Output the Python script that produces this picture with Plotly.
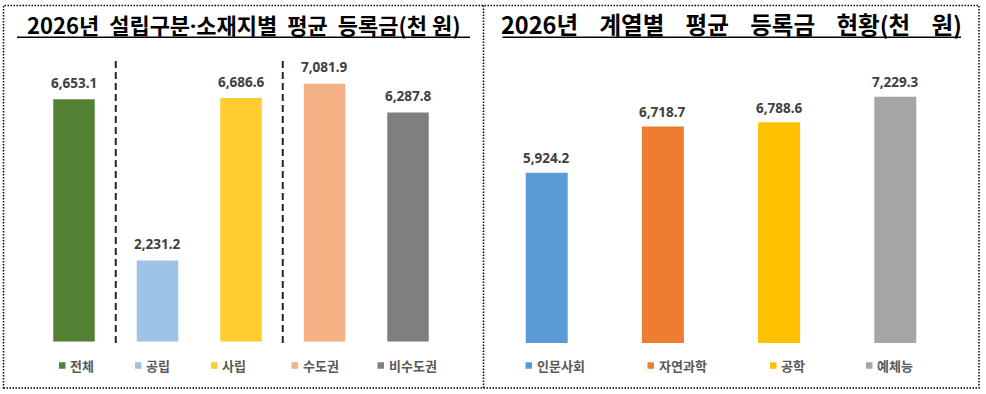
import plotly.graph_objects as go

W, H = 986, 394
NB = "\u00a0"
DOT = "<span style=\"font-family:'Noto Sans'\">·</span>"

# ---------------- data ----------------
left_title = f"2026년{NB*2}설립구분{DOT}소재지별{NB*2}평균{NB*2}등록금(천{NB}원)"
left_cats = ["전체", "공립", "사립", "수도권", "비수도권"]
left_vals = [6653.1, 2231.2, 6686.6, 7081.9, 6287.8]
left_colors = ["#548235", "#9DC3E6", "#FFCD2F", "#F4B183", "#7F7F7F"]

right_title = f"2026년{NB*4}계열별{NB*4}평균{NB*4}등록금{NB*4}현황(천{NB*4}원)"
right_cats = ["인문사회", "자연과학", "공학", "예체능"]
right_vals = [5924.2, 6718.7, 6788.6, 7229.3]
right_colors = ["#5B9BD5", "#ED7D31", "#FFC000", "#A5A5A5"]

# group separators (between categories)
separators = [0.5, 2.5]

# ---------------- helpers ----------------
def px(x):
    return x / W

def py(y):
    return 1 - y / H

fig = go.Figure()

fig.add_trace(go.Bar(
    x=left_cats, y=left_vals, marker=dict(color=left_colors, line=dict(width=0)),
    xaxis="x", yaxis="y", showlegend=False, hoverinfo="x+y",
))
fig.add_trace(go.Bar(
    x=right_cats, y=right_vals, marker=dict(color=right_colors, line=dict(width=0)),
    xaxis="x2", yaxis="y2", showlegend=False, hoverinfo="x+y",
))

label_font = dict(family="Noto Sans, DejaVu Sans, sans-serif", size=13.5, color="#404040", weight="bold")
annotations = []
for c, v in zip(left_cats, left_vals):
    annotations.append(dict(x=c, y=v, xref="x", yref="y", text=f"{v:,.1f}",
                            showarrow=False, yanchor="middle", yshift=16.5, font=label_font))
for c, v in zip(right_cats, right_vals):
    annotations.append(dict(x=c, y=v, xref="x2", yref="y2", text=f"{v:,.1f}",
                            showarrow=False, yanchor="middle", yshift=14.5, font=label_font))

title_font_l = dict(family="Noto Sans CJK KR, sans-serif", size=22, color="#000000", weight="bold")
title_font_r = dict(family="Noto Sans CJK KR, sans-serif", size=23.5, color="#000000", weight="bold")
annotations.append(dict(x=px(243.5), y=py(23.5), xref="paper", yref="paper", text=left_title,
                        showarrow=False, xanchor="center", yanchor="middle", font=title_font_l))
annotations.append(dict(x=px(731.5), y=py(23.5), xref="paper", yref="paper", text=right_title,
                        showarrow=False, xanchor="center", yanchor="middle", font=title_font_r))

shapes = []
# outer dotted frame and divider
frame = dict(color="#000000", width=1.5, dash="1.5px,1.5px")
shapes.append(dict(type="rect", xref="paper", yref="paper", x0=px(3.5), x1=px(979), y0=py(388), y1=py(5.5),
                   line=frame, layer="above"))
shapes.append(dict(type="line", xref="paper", yref="paper", x0=px(483.5), x1=px(483.5), y0=py(388), y1=py(5.5),
                   line=frame))
# title underlines
shapes.append(dict(type="line", xref="paper", yref="paper", x0=px(17), x1=px(470), y0=py(37.3), y1=py(37.3),
                   line=dict(color="#000000", width=1.5)))
shapes.append(dict(type="line", xref="paper", yref="paper", x0=px(502.5), x1=px(961), y0=py(37.3), y1=py(37.3),
                   line=dict(color="#000000", width=1.5)))
# dashed group separators
for s in separators:
    shapes.append(dict(type="line", xref="x", yref="paper", x0=s, x1=s, y0=py(343), y1=py(60),
                       line=dict(color="#262626", width=2, dash="7px,4px")))

# custom legends
legend_font = dict(family="Noto Sans CJK KR, sans-serif", size=13, color="#595959", weight="bold")
left_leg_x = [59, 135, 211, 291.5, 377.5]
right_leg_x = [525.5, 647.5, 770, 866]
leg_y = 365.5
sq = 6.5
for items, colors, xs in ((left_cats, left_colors, left_leg_x), (right_cats, right_colors, right_leg_x)):
    for name, col, x0 in zip(items, colors, xs):
        shapes.append(dict(type="rect", xref="paper", yref="paper", x0=px(x0), x1=px(x0 + sq),
                           y0=py(leg_y + sq / 2), y1=py(leg_y - sq / 2), fillcolor=col, line=dict(width=0)))
        annotations.append(dict(x=px(x0 + 10), y=py(leg_y), xref="paper", yref="paper", text=name,
                                showarrow=False, xanchor="left", yanchor="middle", font=legend_font,
                                xshift=-1))

# axes geometry (pixels)
left_spacing = 83.5
left_x0 = 74 - left_spacing / 2
left_x1 = left_x0 + left_spacing * len(left_cats)
right_spacing = 116.2
right_x0 = 546.7 - right_spacing / 2
right_x1 = right_x0 + right_spacing * len(right_cats)

left_bottom, top = 341.7, 60
left_scale = (341.7 - 99.3) / 6653.1
left_max = (left_bottom - top) / left_scale

right_bottom = 343.0
right_min = 3000
right_scale = (right_bottom - 96.7) / (7229.3 - right_min)
right_max = right_min + (right_bottom - top) / right_scale

fig.update_layout(
    width=W, height=H,
    margin=dict(l=0, r=0, t=0, b=0),
    paper_bgcolor="#FFFFFF", plot_bgcolor="rgba(0,0,0,0)",
    bargap=0.5,
    xaxis=dict(domain=[px(left_x0), px(left_x1)], range=[-0.5, len(left_cats) - 0.5],
               showticklabels=False, showgrid=False, zeroline=False, showline=False, ticks=""),
    yaxis=dict(domain=[py(left_bottom), py(top)], range=[0, left_max],
               showticklabels=False, showgrid=False, zeroline=False, showline=False),
    xaxis2=dict(domain=[px(right_x0), px(right_x1)], range=[-0.5, len(right_cats) - 0.5],
                showticklabels=False, showgrid=False, zeroline=False, showline=False, ticks="", anchor="y2"),
    yaxis2=dict(domain=[py(right_bottom), py(top)], range=[right_min, right_max], anchor="x2",
                showticklabels=False, showgrid=False, zeroline=False, showline=False),
    annotations=annotations,
    shapes=shapes,
    showlegend=False,
)

fig.data[1].width = 42 / right_spacing
fig.data[0].width = 41.5 / left_spacing

fig.write_html("out.html", config={"displayModeBar": False},
               post_script="document.body.style.margin='0';document.body.style.overflow='hidden';")
